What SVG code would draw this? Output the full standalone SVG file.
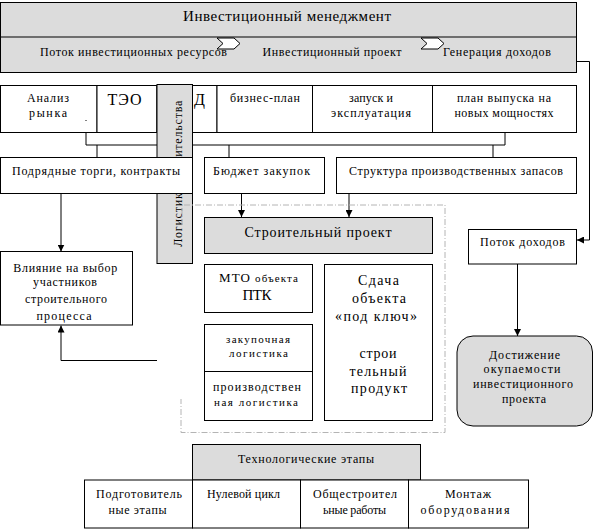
<svg xmlns="http://www.w3.org/2000/svg" width="602" height="530" viewBox="0 0 602 530">
<defs>
<marker id="ah" viewBox="0 0 10 10" refX="10" refY="5" markerWidth="7" markerHeight="7" markerUnits="userSpaceOnUse" orient="auto">
<path d="M0,0 L10,5 L0,10 Z" fill="#000"/>
</marker>
</defs>
<style>
text{font-family:'Liberation Serif','Times New Roman',serif;font-size:12px;fill:#000;text-anchor:middle}
.box{fill:#fff;stroke:#000;stroke-width:1}
.gray{fill:#dcdcdc;stroke:#000;stroke-width:1}
.ln{fill:none;stroke:#000;stroke-width:1}
.arr{fill:none;stroke:#000;stroke-width:1;marker-end:url(#ah)}
.dash{fill:none;stroke:#b4b4b4;stroke-width:1;stroke-dasharray:6 2 1 2}
.chev{fill:#fff;stroke:#000;stroke-width:1}
</style>
<rect width="602" height="530" fill="#fff"/>

<g id="invest-management">
<rect class="gray" x="0.5" y="2.5" width="576" height="70"/>
<line class="ln" x1="0.5" y1="37" x2="576.5" y2="37"/>
<text x="287" y="21" style="font-size:15px" textLength="208" lengthAdjust="spacing">Инвестиционный менеджмент</text>
<text x="133.5" y="56" textLength="187" lengthAdjust="spacing">Поток инвестиционных ресурсов</text>
<text x="332" y="56" textLength="139" lengthAdjust="spacing">Инвестиционный проект</text>
<text x="497" y="56" textLength="108" lengthAdjust="spacing">Генерация доходов</text>
<path class="chev" d="M217,38 L234,38 L240,43.5 L234,49 L217,49 L223,43.5 Z"/>
<path class="chev" d="M421,38 L438,38 L444,43.5 L438,49 L421,49 L427,43.5 Z"/>
</g>

<g id="row-analysis">
<rect class="box" x="0.5" y="85.5" width="96.5" height="47"/>
<text x="48" y="102" textLength="42" lengthAdjust="spacing">Анализ</text>
<text x="48" y="117" textLength="38" lengthAdjust="spacing">рынка</text>
<rect x="85.5" y="120" width="1" height="1" fill="#000"/>
</g>
<g id="row-teo">
<rect class="box" x="97" y="85.5" width="60" height="47"/>
<text x="124.5" y="105" style="font-size:16px" textLength="34" lengthAdjust="spacing">ТЭО</text>
</g>
<g id="row-d">
<rect class="box" x="157" y="85.5" width="60" height="47"/>
<text x="199.5" y="105" style="font-size:16px">Д</text>
</g>
<g id="row-business-plan">
<rect class="box" x="217" y="85.5" width="95.5" height="47"/>
<text x="265" y="102" textLength="70" lengthAdjust="spacing">бизнес-план</text>
</g>
<g id="row-launch">
<rect class="box" x="312.5" y="85.5" width="120" height="47"/>
<text x="371" y="102" textLength="44" lengthAdjust="spacing">запуск и</text>
<text x="371" y="117" textLength="80" lengthAdjust="spacing">эксплуатация</text>
</g>
<g id="row-output-plan">
<rect class="box" x="432.5" y="85.5" width="144" height="47"/>
<text x="504" y="102" textLength="94" lengthAdjust="spacing">план выпуска на</text>
<text x="504" y="117" textLength="99" lengthAdjust="spacing">новых мощностях</text>
</g>

<g id="connectors">
<polyline class="ln" points="86,132.5 86,145 505,145 505,132.5"/>
<line class="ln" x1="97" y1="145" x2="97" y2="157"/>
<line class="ln" x1="229" y1="145" x2="229" y2="157"/>
<line class="ln" x1="493" y1="145" x2="493" y2="157"/>
<line class="arr" x1="61" y1="193" x2="61" y2="251.5"/>
<line class="arr" x1="241.5" y1="193" x2="241.5" y2="217"/>
<line class="arr" x1="349" y1="193" x2="349" y2="217"/>
<polyline class="arr" points="157,360.5 61,360.5 61,325.5"/>
<polyline class="arr" points="576.5,61.5 589.5,61.5 589.5,240 577,240"/>
<line class="arr" x1="517.5" y1="264" x2="517.5" y2="336"/>
</g>

<g id="logistics-column">
<rect class="gray" x="157" y="84.5" width="35.5" height="179"/>
<text transform="translate(181.5,246.7) rotate(-90)" style="text-anchor:start" textLength="146" lengthAdjust="spacing">Логистика строительства</text>
</g>

<g id="contracts">
<rect class="box" x="0.5" y="157.5" width="192" height="36"/>
<text x="96" y="175" textLength="168" lengthAdjust="spacing">Подрядные торги, контракты</text>
</g>
<g id="budget">
<rect class="box" x="204.5" y="157.5" width="120" height="36"/>
<text x="261.5" y="175" textLength="97" lengthAdjust="spacing">Бюджет закупок</text>
</g>
<g id="stock-structure">
<rect class="box" x="336.5" y="157.5" width="240" height="36"/>
<text x="456" y="175" textLength="214" lengthAdjust="spacing">Структура производственных запасов</text>
</g>

<g id="construction-frame">
<polyline class="dash" points="182,225 182,205 445,205 445,432.5 181,432.5 181,399"/>
</g>

<g id="construction-project">
<rect class="gray" x="204.5" y="217.5" width="228" height="36"/>
<text x="318" y="237" style="font-size:14px" textLength="147" lengthAdjust="spacing">Строительный проект</text>
</g>

<g id="influence">
<rect class="box" x="0.5" y="251.5" width="132" height="73.5"/>
<text x="65.3" y="272" textLength="104" lengthAdjust="spacing">Влияние на выбор</text>
<text x="65" y="285.5" textLength="64" lengthAdjust="spacing">участников</text>
<text x="66" y="302.5" textLength="82" lengthAdjust="spacing">строительного</text>
<text x="64" y="320" textLength="55" lengthAdjust="spacing">процесса</text>
</g>

<g id="mto">
<rect class="box" x="204.5" y="264.5" width="108" height="48"/>
<text x="258.5" y="282" textLength="79" lengthAdjust="spacing"><tspan style="font-size:13px">МТО</tspan> <tspan style="font-size:11px">объекта</tspan></text>
<text x="257" y="300" style="font-size:15px" textLength="29" lengthAdjust="spacing">ПТК</text>
</g>

<g id="logistics-types">
<rect class="box" x="204.5" y="324.5" width="108" height="96"/>
<line class="ln" x1="204.5" y1="371.5" x2="312.5" y2="371.5"/>
<text x="258" y="343" style="font-size:11px" textLength="64" lengthAdjust="spacing">закупочная</text>
<text x="258.5" y="357" style="font-size:11px" textLength="59" lengthAdjust="spacing">логистика</text>
<text x="257" y="391" textLength="88" lengthAdjust="spacing">производствен</text>
<text x="256" y="406" style="font-size:11px" textLength="84" lengthAdjust="spacing">ная логистика</text>
</g>

<g id="turnkey">
<rect class="box" x="324.5" y="264.5" width="108" height="156"/>
<text x="378.5" y="285" style="font-size:14px" textLength="41" lengthAdjust="spacing">Сдача</text>
<text x="379" y="303" style="font-size:14px" textLength="54" lengthAdjust="spacing">объекта</text>
<text x="376" y="321" style="font-size:14px" textLength="82" lengthAdjust="spacing">«под ключ»</text>
<text x="378" y="358" style="font-size:14px" textLength="37" lengthAdjust="spacing">строи</text>
<text x="378" y="376" style="font-size:14px" textLength="57" lengthAdjust="spacing">тельный</text>
<text x="379" y="393" style="font-size:14px" textLength="56" lengthAdjust="spacing">продукт</text>
</g>

<g id="income-flow">
<rect class="box" x="468.5" y="229.5" width="108" height="34.5"/>
<text x="522.5" y="246" textLength="85" lengthAdjust="spacing">Поток доходов</text>
</g>

<g id="payback">
<rect class="gray" x="457" y="336" width="135.5" height="90" rx="16" ry="16"/>
<text x="524.5" y="359" textLength="71" lengthAdjust="spacing">Достижение</text>
<text x="522" y="373" textLength="77" lengthAdjust="spacing">окупаемости</text>
<text x="523" y="387.5" textLength="100" lengthAdjust="spacing">инвестиционного</text>
<text x="524" y="403" textLength="44" lengthAdjust="spacing">проекта</text>
</g>

<g id="tech-stages">
<rect class="gray" x="192.5" y="444.5" width="228" height="35.5"/>
<text x="306" y="462.5" textLength="136" lengthAdjust="spacing">Технологические этапы</text>
</g>
<g id="stage-prep">
<rect class="box" x="84.5" y="480" width="108" height="48"/>
<text x="139" y="498" textLength="86" lengthAdjust="spacing">Подготовитель</text>
<text x="137.5" y="514" textLength="58" lengthAdjust="spacing">ные этапы</text>
</g>
<g id="stage-zero">
<rect class="box" x="192.5" y="480" width="108" height="48"/>
<text x="243.5" y="498" textLength="73" lengthAdjust="spacing">Нулевой цикл</text>
</g>
<g id="stage-general">
<rect class="box" x="300.5" y="480" width="108" height="48"/>
<text x="355" y="498" textLength="84" lengthAdjust="spacing">Общестроител</text>
<text x="354.5" y="514" textLength="63" lengthAdjust="spacing">ьные работы</text>
</g>
<g id="stage-montage">
<rect class="box" x="408.5" y="480" width="120" height="48"/>
<text x="468" y="498" textLength="46" lengthAdjust="spacing">Монтаж</text>
<text x="465" y="514" textLength="89" lengthAdjust="spacing">оборудования</text>
</g>
</svg>
